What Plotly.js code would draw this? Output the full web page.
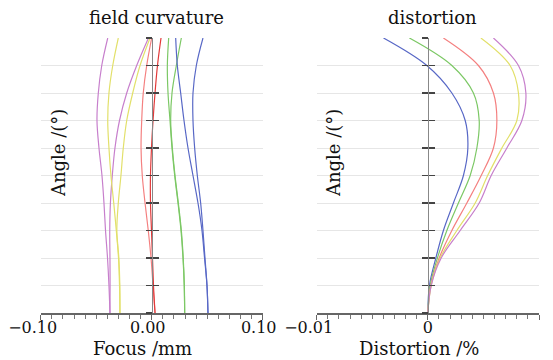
<!DOCTYPE html>
<html>
<head>
<meta charset="utf-8">
<script src="https://cdn.plot.ly/plotly-3.0.1.min.js"></script>
<style>html,body{margin:0;padding:0;background:#fff;}#chart{width:553px;height:360px;}</style>
</head>
<body>
<div id="chart"></div>
<script>
// relative field levels (bottom = on-axis, top = full field)
const angle = [0, 1, 2, 3, 4, 5, 6, 7, 8, 9, 10];

// field curvature (mm), S = sagittal, T = tangential
const fcPurpleS = [-0.0376, -0.0385, -0.0398, -0.0416, -0.0430, -0.0448, -0.0475, -0.0493, -0.0481, -0.0450, -0.0396];
const fcPurpleT = [-0.0376, -0.0375, -0.0376, -0.0378, -0.0372, -0.0355, -0.0331, -0.0290, -0.0225, -0.0135, -0.0029];
const fcYellowS = [-0.0286, -0.0290, -0.0299, -0.0319, -0.0342, -0.0367, -0.0385, -0.0396, -0.0385, -0.0351, -0.0301];
const fcYellowT = [-0.0286, -0.0287, -0.0296, -0.0314, -0.0301, -0.0277, -0.0256, -0.0225, -0.0171, -0.0105, -0.0015];
const fcRedS    = [0.0030, 0.0012, -0.0006, -0.0031, -0.0060, -0.0085, -0.0096, -0.0090, -0.0076, -0.0045, 0.0000];
const fcRedT    = [0.0030, 0.0016, 0.0007, -0.0002, -0.0011, -0.0011, -0.0002, 0.0012, 0.0030, 0.0052, 0.0084];
const fcGreenS  = [0.0297, 0.0293, 0.0282, 0.0264, 0.0237, 0.0207, 0.0183, 0.0165, 0.0147, 0.0141, 0.0153];
const fcGreenT  = [0.0297, 0.0294, 0.0284, 0.0267, 0.0240, 0.0210, 0.0186, 0.0171, 0.0183, 0.0222, 0.0267];
const fcBlueS   = [0.0507, 0.0498, 0.0476, 0.0453, 0.0417, 0.0372, 0.0327, 0.0291, 0.0261, 0.0231, 0.0216];
const fcBlueT   = [0.0507, 0.0498, 0.0480, 0.0462, 0.0441, 0.0411, 0.0387, 0.0372, 0.0372, 0.0402, 0.0462];

// distortion (%)
const distBlue   = [0, 0.00014, 0.00072, 0.00140, 0.00230, 0.00320, 0.00360, 0.00336, 0.00216, -0.00009, -0.00399];
const distGreen  = [0, 0.00021, 0.00086, 0.00171, 0.00275, 0.00381, 0.00441, 0.00462, 0.00410, 0.00216, -0.00166];
const distRed    = [0, 0.00027, 0.00102, 0.00216, 0.00351, 0.00480, 0.00590, 0.00621, 0.00590, 0.00455, 0.00140];
const distYellow = [0, 0.00030, 0.00111, 0.00261, 0.00426, 0.00538, 0.00666, 0.00801, 0.00815, 0.00740, 0.00477];
const distPurple = [0, 0.00030, 0.00120, 0.00291, 0.00462, 0.00570, 0.00711, 0.00846, 0.00882, 0.00815, 0.00590];

// tick labels (trailing spaces reproduce the reference's slightly left-shifted labels)
const fcTickVals = [-0.1, 0, 0.1];
const fcTickText = ['\u22120.10\u2002\u2002', '0.00\u2002', '0.10\u2002'];
const distTickVals = [-0.01, 0, 0.01];
const distTickText = ['\u22120.01\u2002\u2002', '0', '0.01\u2002'];

const C = {
  purple: '#c77fcc', yellow: '#e2e06a', redL: '#f48080', red: '#e23a3a',
  green: '#7cc865', blue: '#5868c6'
};

function tr(x, color, xa, ya) {
  return {x: x, y: angle, type: 'scatter', mode: 'lines', xaxis: xa, yaxis: ya,
    line: {color: color, width: 1.2, shape: 'spline', smoothing: 1},
    hoverinfo: 'skip', showlegend: false};
}
// empty helper traces so the overlaid (inner-tick) axes get drawn
function helper(xa, ya) {
  return {x: [], y: [], type: 'scatter', mode: 'lines', xaxis: xa, yaxis: ya, hoverinfo: 'skip', showlegend: false};
}

const data = [
  tr(fcPurpleS, C.purple, 'x', 'y'),
  tr(fcPurpleT, C.purple, 'x', 'y'),
  tr(fcYellowS, C.yellow, 'x', 'y'),
  tr(fcYellowT, C.yellow, 'x', 'y'),
  tr(fcGreenS, C.green, 'x', 'y'),
  tr(fcGreenT, C.green, 'x', 'y'),
  tr(fcBlueS, C.blue, 'x', 'y'),
  tr(fcBlueT, C.blue, 'x', 'y'),
  tr(fcRedS, C.redL, 'x', 'y'),
  tr(fcRedT, C.red, 'x', 'y'),
  tr(distBlue, C.blue, 'x2', 'y2'),
  tr(distGreen, C.green, 'x2', 'y2'),
  tr(distRed, C.redL, 'x2', 'y2'),
  tr(distYellow, C.yellow, 'x2', 'y2'),
  tr(distPurple, C.purple, 'x2', 'y2'),
  helper('x', 'y3'),
  helper('x2', 'y4')
];

const W = 553, H = 360;
const font = 'DejaVu Serif, serif';
const yDom = [(H - 313) / H, (H - 38) / H];
const xDom1 = [40.7 / W, 262.7 / W];
const xDom2 = [316.7 / W, 539 / W];

function xAxis(range, vals, text, minorDt, dom, anchor) {
  return {domain: dom, range: range, anchor: anchor, showgrid: false, zeroline: false,
    showline: true, linecolor: '#666', linewidth: 1.5,
    tickmode: 'array', tickvals: vals, ticktext: text, ticks: 'outside', ticklen: 5,
    tickcolor: '#666', tickwidth: 1, ticklabelstandoff: -6,
    minor: {dtick: minorDt, tick0: 0, ticks: 'outside', ticklen: 4, tickcolor: '#777', showgrid: false},
    tickfont: {family: font, size: 16, color: '#111'}, fixedrange: true, automargin: false};
}
function yAxis(pos, ticks, overlay, showGrid) {
  const a = {domain: yDom, range: [0, 10], anchor: 'free', position: pos,
    dtick: 1, tick0: 0, ticks: ticks, ticklen: 6, tickcolor: '#444', tickwidth: 1.2,
    showticklabels: false, showgrid: showGrid, gridcolor: '#e6e6e6', gridwidth: 1,
    zeroline: false, showline: !overlay, linecolor: '#888', linewidth: 1.5,
    fixedrange: true, automargin: false};
  if (overlay) a.overlaying = overlay;
  return a;
}

const ann = (text, x, y, size, rot) => ({text: text, x: x / W, y: 1 - y / H, xref: 'paper', yref: 'paper',
  showarrow: false, xanchor: 'center', yanchor: 'middle', textangle: rot || 0,
  font: {family: font, size: size, color: '#111'}});

const layout = {
  width: W, height: H, margin: {l: 0, r: 0, t: 0, b: 0},
  paper_bgcolor: '#fff', plot_bgcolor: '#fff', showlegend: false,
  xaxis: xAxis([-0.1, 0.1], fcTickVals, fcTickText, 0.01, xDom1, 'y'),
  xaxis2: xAxis([-0.01, 0.01], distTickVals, distTickText, 0.001, xDom2, 'y2'),
  yaxis: yAxis(151.7 / W, 'outside', null, true),
  yaxis2: yAxis(427.7 / W, 'outside', null, true),
  yaxis3: yAxis(151.7 / W, 'inside', 'y', false),
  yaxis4: yAxis(427.7 / W, 'inside', 'y2', false),
  annotations: [
    ann('field curvature', 156, 17, 18),
    ann('distortion', 432, 17, 18),
    ann('Focus /mm', 142, 348, 18),
    ann('Distortion /%', 419, 348, 18),
    ann('Angle /(°)', 58, 153, 18, -90),
    ann('Angle /(°)', 333, 153, 18, -90)
  ]
};

Plotly.newPlot('chart', data, layout, {staticPlot: true, displayModeBar: false});
</script>
</body>
</html>
